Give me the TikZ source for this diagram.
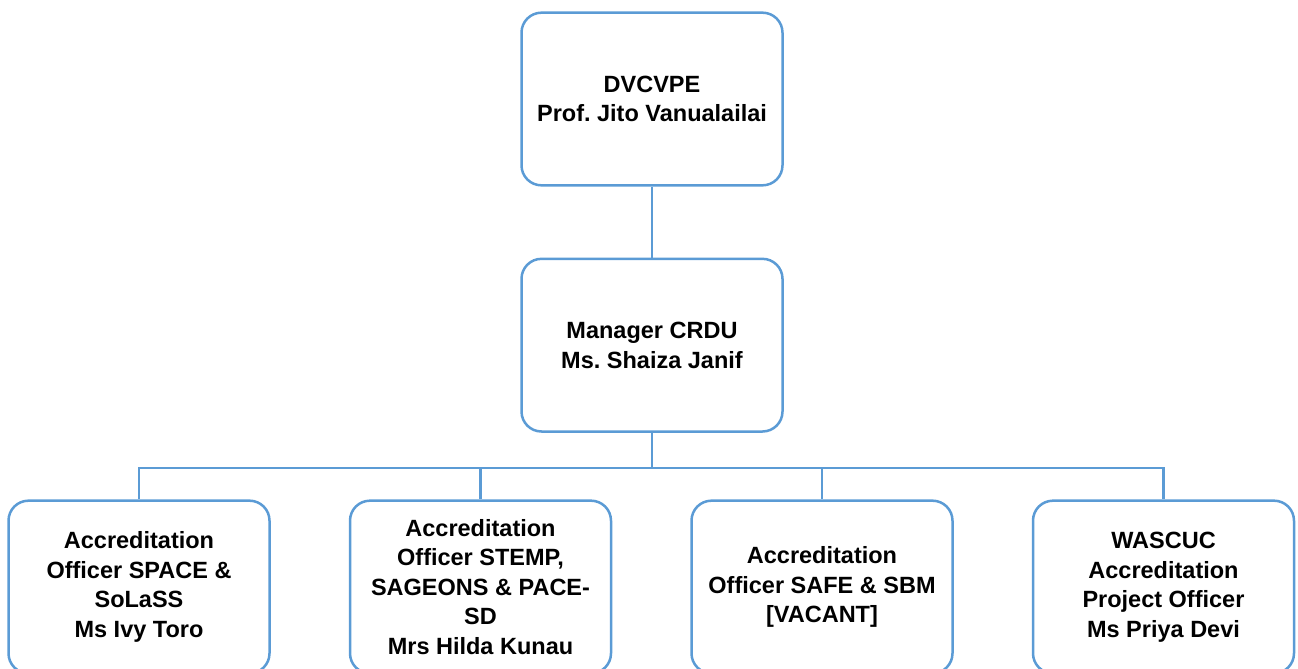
\documentclass[tikz,border=0pt]{standalone}
\usepackage{fontspec}
\setmainfont{Liberation Sans}
\usetikzlibrary{positioning}
\definecolor{orgblue}{HTML}{5B9BD5}
\frenchspacing

\begin{document}
\begin{tikzpicture}[
  x=0.6pt, y=-0.6pt,
  node distance=42.6pt and 46.8pt,
  box/.style={draw=orgblue, line width=1.5pt, rounded corners=12pt, align=center,
              minimum width=156.6pt, minimum height=103.6pt, inner sep=3pt,
              font=\bfseries\fontsize{14.1}{17.7}\selectfont},
  link/.style={draw=orgblue, line width=1.3pt}
]
  \useasboundingbox (0,0) rectangle (1298,668);

  \node[box] (dvc) at (652,99) {DVCVPE\\Prof. Jito Vanualailai};
  \node[box, below=of dvc] (mgr) {Manager CRDU\\Ms. Shaiza Janif};

  \node[box] (safe) at (822,587) {Accreditation\\Officer SAFE \& SBM\\{}[VACANT]};
  \node[box, left=of safe] (stemp) {Accreditation\\Officer STEMP,\\SAGEONS \& PACE-\\SD\\Mrs Hilda Kunau};
  \node[box, left=of stemp] (space) {Accreditation\\Officer SPACE \&\\SoLaSS\\Ms Ivy Toro};
  \node[box, right=of safe] (wasc) {WASCUC\\Accreditation\\Project Officer\\Ms Priya Devi};

  \draw[link] (dvc) -- (mgr);
  \draw[link] (mgr.south) -- ++(0,35) -| (space.north);
  \draw[link] (mgr.south) -- ++(0,35) -| (stemp.north);
  \draw[link] (mgr.south) -- ++(0,35) -| (safe.north);
  \draw[link] (mgr.south) -- ++(0,35) -| (wasc.north);
\end{tikzpicture}
\end{document}
